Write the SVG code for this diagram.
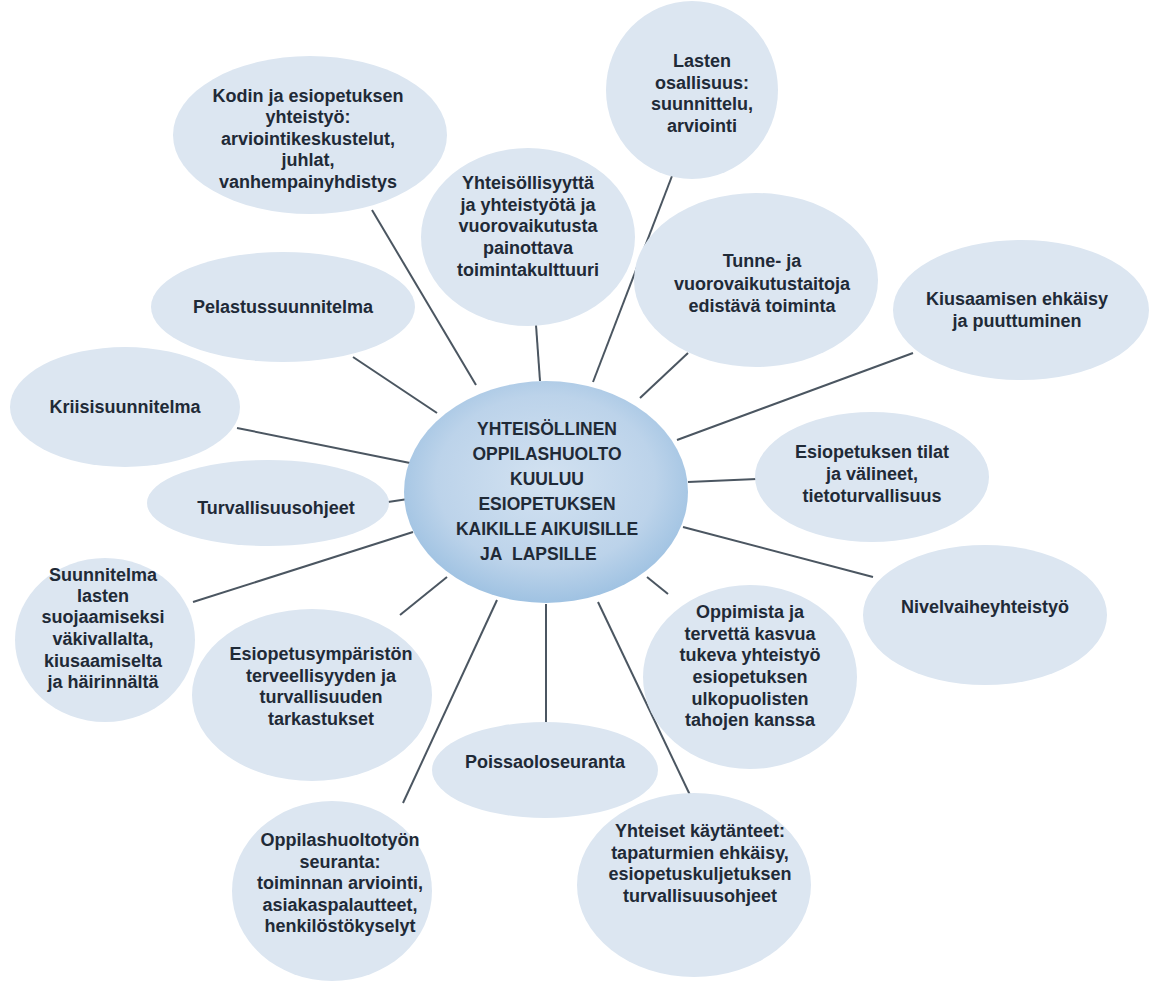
<svg xmlns="http://www.w3.org/2000/svg" width="1153" height="985" viewBox="0 0 1153 985">
<defs>
<radialGradient id="cg" cx="50%" cy="45%" r="55%">
<stop offset="0%" stop-color="#d3e2f1"/>
<stop offset="70%" stop-color="#bcd3ea"/>
<stop offset="100%" stop-color="#9fc2e2"/>
</radialGradient>
<style>
.n{fill:#dce6f1;}
.t{font-family:"Liberation Sans",Arial,sans-serif;font-weight:bold;font-size:18px;fill:#1f2a37;text-anchor:middle;}
.c{font-family:"Liberation Sans",Arial,sans-serif;font-weight:bold;font-size:17.5px;fill:#1f2a37;text-anchor:middle;}
.e line{stroke:#4b5661;stroke-width:2;}
</style>
</defs>
<rect width="1153" height="985" fill="#ffffff"/>
<g id="connectors" class="e">
<line x1="372" y1="210" x2="476" y2="385"/>
<line x1="536" y1="325" x2="540" y2="381"/>
<line x1="672" y1="176" x2="593" y2="382"/>
<line x1="688" y1="353" x2="640" y2="398"/>
<line x1="913" y1="353" x2="677" y2="440"/>
<line x1="757" y1="479" x2="688" y2="482"/>
<line x1="873" y1="577" x2="683" y2="527"/>
<line x1="668" y1="594" x2="647" y2="577"/>
<line x1="690" y1="795" x2="598" y2="602"/>
<line x1="546" y1="723" x2="546" y2="604"/>
<line x1="403" y1="803" x2="497" y2="600"/>
<line x1="400" y1="615" x2="447" y2="577"/>
<line x1="193" y1="602" x2="413" y2="532"/>
<line x1="388" y1="502" x2="408" y2="499"/>
<line x1="237" y1="428" x2="410" y2="463"/>
<line x1="353" y1="357" x2="437" y2="413"/>
</g>
<g id="center">
<ellipse cx="546" cy="492" rx="142" ry="111" fill="url(#cg)"/>
<text class="c" x="547" y="435">YHTEISÖLLINEN</text>
<text class="c" x="547" y="460">OPPILASHUOLTO</text>
<text class="c" x="547" y="485">KUULUU</text>
<text class="c" x="547" y="510">ESIOPETUKSEN</text>
<text class="c" x="547" y="535">KAIKILLE AIKUISILLE</text>
<text class="c" x="480" y="560" style="text-anchor:start">JA <tspan x="512">LAPSILLE</tspan></text>
</g>
<g id="kodin">
<ellipse class="n" cx="310" cy="135" rx="137" ry="79"/>
<text class="t" x="308" y="102">Kodin ja esiopetuksen</text>
<text class="t" x="308" y="123">yhteistyö:</text>
<text class="t" x="308" y="145">arviointikeskustelut,</text>
<text class="t" x="308" y="166">juhlat,</text>
<text class="t" x="308" y="188">vanhempainyhdistys</text>
</g>
<g id="lasten">
<ellipse class="n" cx="692" cy="90" rx="86" ry="89"/>
<text class="t" x="702" y="67">Lasten</text>
<text class="t" x="702" y="89">osallisuus:</text>
<text class="t" x="702" y="110">suunnittelu,</text>
<text class="t" x="702" y="132">arviointi</text>
</g>
<g id="yhteisollisyys">
<ellipse class="n" cx="528" cy="237" rx="107" ry="89"/>
<text class="t" x="528" y="189">Yhteisöllisyyttä</text>
<text class="t" x="528" y="211">ja yhteistyötä ja</text>
<text class="t" x="528" y="232">vuorovaikutusta</text>
<text class="t" x="528" y="254">painottava</text>
<text class="t" x="528" y="276">toimintakulttuuri</text>
</g>
<g id="tunne">
<ellipse class="n" cx="756" cy="280" rx="122" ry="87"/>
<text class="t" x="762" y="267">Tunne- ja</text>
<text class="t" x="762" y="290">vuorovaikutustaitoja</text>
<text class="t" x="762" y="312">edistävä toiminta</text>
</g>
<g id="kiusaaminen">
<ellipse class="n" cx="1021" cy="310" rx="128" ry="70"/>
<text class="t" x="1017" y="305">Kiusaamisen ehkäisy</text>
<text class="t" x="1017" y="327">ja puuttuminen</text>
</g>
<g id="pelastus">
<ellipse class="n" cx="283" cy="307" rx="132" ry="55"/>
<text class="t" x="283" y="313">Pelastussuunnitelma</text>
</g>
<g id="kriisi">
<ellipse class="n" cx="125" cy="407" rx="115" ry="60"/>
<text class="t" x="125" y="413">Kriisisuunnitelma</text>
</g>
<g id="turvallisuus">
<ellipse class="n" cx="268" cy="503" rx="121" ry="43"/>
<text class="t" x="276" y="514">Turvallisuusohjeet</text>
</g>
<g id="suunnitelma">
<ellipse class="n" cx="105" cy="640" rx="90" ry="82"/>
<text class="t" x="103" y="581">Suunnitelma</text>
<text class="t" x="103" y="602">lasten</text>
<text class="t" x="103" y="623">suojaamiseksi</text>
<text class="t" x="103" y="645">väkivallalta,</text>
<text class="t" x="103" y="667">kiusaamiselta</text>
<text class="t" x="103" y="688">ja häirinnältä</text>
</g>
<g id="ymparisto">
<ellipse class="n" cx="312" cy="695" rx="120" ry="86"/>
<text class="t" x="321" y="660">Esiopetusympäristön</text>
<text class="t" x="321" y="682">terveellisyyden ja</text>
<text class="t" x="321" y="703">turvallisuuden</text>
<text class="t" x="321" y="725">tarkastukset</text>
</g>
<g id="tilat">
<ellipse class="n" cx="872" cy="477" rx="117" ry="65"/>
<text class="t" x="872" y="458">Esiopetuksen tilat</text>
<text class="t" x="872" y="480">ja välineet,</text>
<text class="t" x="872" y="502">tietoturvallisuus</text>
</g>
<g id="nivelvaihe">
<ellipse class="n" cx="985" cy="615" rx="122" ry="70"/>
<text class="t" x="985" y="613">Nivelvaiheyhteistyö</text>
</g>
<g id="oppimista">
<ellipse class="n" cx="750" cy="677" rx="107" ry="92"/>
<text class="t" x="750" y="618">Oppimista ja</text>
<text class="t" x="750" y="640">tervettä kasvua</text>
<text class="t" x="750" y="661">tukeva yhteistyö</text>
<text class="t" x="750" y="683">esiopetuksen</text>
<text class="t" x="750" y="705">ulkopuolisten</text>
<text class="t" x="750" y="726">tahojen kanssa</text>
</g>
<g id="poissaolo">
<ellipse class="n" cx="545" cy="770" rx="113" ry="48"/>
<text class="t" x="545" y="768">Poissaoloseuranta</text>
</g>
<g id="oppilashuolto">
<ellipse class="n" cx="332" cy="891" rx="100" ry="90"/>
<text class="t" x="340" y="846">Oppilashuoltotyön</text>
<text class="t" x="340" y="868">seuranta:</text>
<text class="t" x="340" y="889">toiminnan arviointi,</text>
<text class="t" x="340" y="911">asiakaspalautteet,</text>
<text class="t" x="340" y="932">henkilöstökyselyt</text>
</g>
<g id="yhteiset">
<ellipse class="n" cx="694" cy="885" rx="117" ry="92"/>
<text class="t" x="700" y="837">Yhteiset käytänteet:</text>
<text class="t" x="700" y="859">tapaturmien ehkäisy,</text>
<text class="t" x="700" y="880">esiopetuskuljetuksen</text>
<text class="t" x="700" y="902">turvallisuusohjeet</text>
</g>
</svg>
